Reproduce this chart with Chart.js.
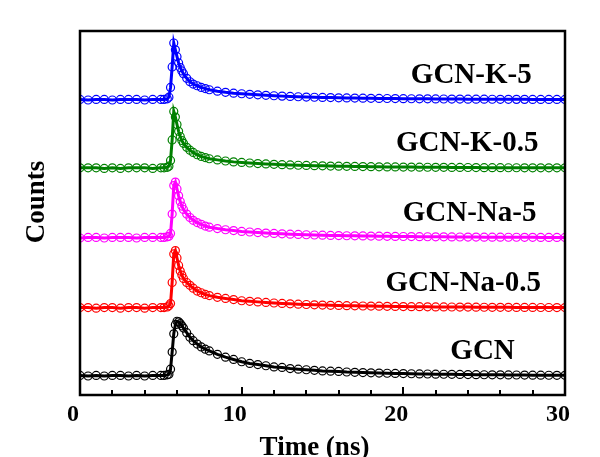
<!DOCTYPE html>
<html lang="en">
<head>
<meta charset="UTF-8">
<title>TRPL decay</title>
<script src="https://cdn.jsdelivr.net/npm/chart.js"></script>
<style>
  body { margin: 0; background: #fff; }
</style>
</head>
<body>
<canvas id="decay" width="600" height="457"></canvas>
<script>
// time axis (ns), denser around the excitation pulse
const time = [0,0.5,1,1.5,2,2.5,3,3.5,4,4.5,5,
  5.2,5.4,5.5,5.6,5.7,5.8,5.9,6,6.1,6.2,6.3,6.4,
  6.6,6.8,7,7.25,7.5,7.75,8,
  8.5,9,9.5,10,10.5,11,11.5,12,12.5,13,13.5,14,14.5,15,
  15.5,16,16.5,17,17.5,18,18.5,19,19.5,20,20.5,21,21.5,22,22.5,23,23.5,24,24.5,25,25.5,26,26.5,27,27.5,28,28.5,29,29.5,30];

// normalised counts
const gcn = [0.01,0.00,0.01,0.00,0.01,0.01,0.00,0.01,0.00,0.01,0.01,
  0.01,0.02,0.03,0.12,0.42,0.74,0.90,0.96,0.95,0.92,0.88,0.84,
  0.76,0.68,0.62,0.56,0.51,0.47,0.44,
  0.38,0.33,0.29,0.25,0.22,0.20,0.18,0.16,0.15,0.13,0.12,0.11,0.10,0.09,
  0.085,0.080,0.070,0.065,0.060,0.056,0.052,0.048,0.045,0.042,0.040,0.037,0.035,0.033,0.031,0.029,0.027,0.025,0.024,0.022,0.021,0.020,0.019,0.018,0.016,0.015,0.014,0.013,0.012,0.012];
const gcnNa05 = [0.01,0.01,0.00,0.01,0.01,0.00,0.01,0.01,0.00,0.01,0.01,
  0.01,0.02,0.04,0.08,0.45,0.95,1.01,0.88,0.75,0.65,0.58,0.52,
  0.45,0.40,0.35,0.30,0.27,0.24,0.22,
  0.19,0.17,0.15,0.13,0.12,0.11,0.10,0.09,0.083,0.076,0.070,0.064,0.059,0.054,
  0.050,0.047,0.044,0.041,0.038,0.036,0.034,0.032,0.030,0.028,0.026,0.025,0.024,0.022,0.021,0.020,0.019,0.018,0.017,0.016,0.015,0.014,0.014,0.013,0.012,0.012,0.011,0.011,0.010,0.010];
const gcnNa5 = [0.00,0.01,0.01,0.00,0.01,0.01,0.01,0.00,0.01,0.01,0.01,
  0.01,0.02,0.03,0.08,0.42,0.92,0.98,0.86,0.74,0.64,0.56,0.50,
  0.42,0.36,0.31,0.27,0.24,0.21,0.19,
  0.165,0.145,0.13,0.115,0.105,0.095,0.087,0.08,0.073,0.067,0.062,0.057,0.053,0.049,
  0.046,0.043,0.040,0.038,0.036,0.034,0.032,0.030,0.028,0.026,0.025,0.024,0.022,0.021,0.020,0.019,0.018,0.017,0.016,0.015,0.015,0.014,0.013,0.013,0.012,0.012,0.011,0.011,0.010,0.010];
const gcnK05 = [0.01,0.01,0.01,0.00,0.01,0.00,0.01,0.01,0.01,0.00,0.01,
  0.01,0.02,0.04,0.14,0.50,1.00,0.90,0.77,0.65,0.56,0.49,0.44,
  0.37,0.32,0.28,0.24,0.21,0.19,0.17,
  0.15,0.13,0.115,0.105,0.095,0.086,0.079,0.072,0.066,0.061,0.056,0.052,0.048,0.045,
  0.042,0.040,0.037,0.035,0.033,0.031,0.029,0.027,0.026,0.024,0.023,0.022,0.021,0.020,0.019,0.018,0.017,0.016,0.015,0.014,0.014,0.013,0.012,0.012,0.011,0.011,0.010,0.010,0.010,0.010];
const gcnK5 = [0.01,0.00,0.01,0.01,0.00,0.01,0.01,0.01,0.00,0.01,0.01,
  0.01,0.02,0.05,0.22,0.58,1.00,0.88,0.76,0.65,0.57,0.51,0.46,
  0.38,0.32,0.28,0.25,0.22,0.20,0.18,
  0.155,0.135,0.12,0.11,0.10,0.09,0.082,0.075,0.068,0.062,0.057,0.052,0.048,0.045,
  0.042,0.039,0.036,0.034,0.032,0.030,0.028,0.026,0.025,0.023,0.022,0.021,0.020,0.019,0.018,0.017,0.016,0.015,0.014,0.014,0.013,0.012,0.012,0.011,0.011,0.010,0.010,0.010,0.010,0.010];

const samples = ['GCN', 'GCN-Na-0.5', 'GCN-Na-5', 'GCN-K-0.5', 'GCN-K-5'];
const series = [gcn, gcnNa05, gcnNa5, gcnK05, gcnK5];
const offsets = [0, 1.19, 2.42, 3.64, 4.84];   // vertical stacking of the curves
const xTicks = [0, 10, 20, 30];

const colors = ['#000000', '#ff0000', '#ff00ff', '#008000', '#0000ff'];
const labelX = [24.9, 23.7, 24.1, 23.95, 24.2];  // where each name sits (ns)
const serif = '"Liberation Serif", "Times New Roman", serif';

// frame, inward ticks, sample names and axis titles
const decor = {
  id: 'decor',
  afterDatasetsDraw(chart) {
    const { ctx, chartArea: a, scales: { x, y } } = chart;
    ctx.save();
    ctx.strokeStyle = '#000';
    ctx.lineWidth = 2.5;
    ctx.strokeRect(a.left, a.top, a.right - a.left, a.bottom - a.top);

    ctx.lineWidth = 2;
    for (let t = 2; t < 30; t += 2) {
      const px = Math.round(x.getPixelForValue(t));
      const len = t % 10 === 0 ? 8 : 5;
      ctx.beginPath();
      ctx.moveTo(px, a.bottom);
      ctx.lineTo(px, a.bottom - len);
      ctx.stroke();
    }

    ctx.fillStyle = '#000';
    ctx.textAlign = 'center';
    ctx.textBaseline = 'middle';
    ctx.font = 'bold 29px ' + serif;
    samples.forEach((s, i) => {
      ctx.fillText(s, x.getPixelForValue(labelX[i]), y.getPixelForValue(offsets[i] + 0.43));
    });

    ctx.font = 'bold 27px ' + serif;
    ctx.textBaseline = 'alphabetic';
    ctx.fillText('Time (ns)', (a.left + a.right) / 2 - 8, 455);
    ctx.translate(37, (a.top + a.bottom) / 2 - 11);
    ctx.rotate(-Math.PI / 2);
    ctx.textBaseline = 'middle';
    ctx.fillText('Counts', 0, 0);
    ctx.restore();
  }
};

new Chart(document.getElementById('decay'), {
  type: 'line',
  data: {
    datasets: series.map((vals, i) => ({
      label: samples[i],
      data: time.map((t, j) => ({ x: t, y: offsets[i] + vals[j] })),
      borderColor: colors[i],
      borderWidth: 3,
      pointStyle: 'circle',
      pointRadius: 4,
      pointBorderWidth: 1.2,
      pointBorderColor: colors[i],
      pointBackgroundColor: 'rgba(255,255,255,0)',
      tension: 0,
      fill: false
    }))
  },
  options: {
    responsive: false,
    animation: false,
    layout: { padding: { top: 31, right: 35, left: 0, bottom: 0 } },
    plugins: { legend: { display: false }, tooltip: { enabled: false } },
    scales: {
      x: {
        type: 'linear', min: 0, max: 30,
        afterBuildTicks: s => { s.ticks = xTicks.map(v => ({ value: v })); },
        grid: { display: false, drawTicks: false },
        border: { display: false },
        ticks: { color: '#000', font: { family: serif, size: 24, weight: 'bold' }, padding: 5, labelOffset: -7, maxRotation: 0 },
        afterFit: s => { s.height = 62; }
      },
      y: {
        min: -0.333, max: 6.05,
        grid: { display: false, drawTicks: false },
        border: { display: false },
        ticks: { display: false },
        afterFit: s => { s.width = 80; }
      }
    }
  },
  plugins: [decor]
});
</script>
</body>
</html>
